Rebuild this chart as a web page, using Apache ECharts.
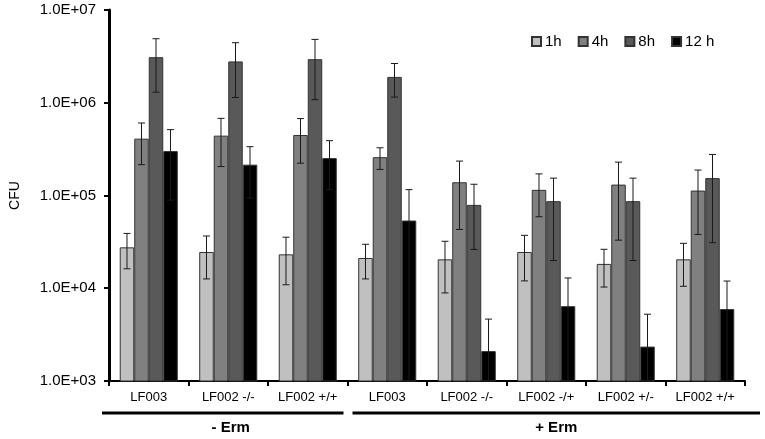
<!DOCTYPE html>
<html>
<head>
<meta charset="utf-8">
<script src="https://cdn.jsdelivr.net/npm/echarts@6/dist/echarts.min.js"></script>
<style>
html,body{margin:0;padding:0;background:#fff;}
#c{width:765px;height:439px;}
</style>
</head>
<body>
<div id="c"></div>
<script>
const categories = ['LF003', 'LF002 -/-', 'LF002 +/+', 'LF003', 'LF002 -/-', 'LF002 -/+', 'LF002 +/-', 'LF002 +/+'];
const seriesNames = ['1h', '4h', '8h', '12 h'];
const v1h  = [27600, 24600, 23200, 21200, 20500, 24600, 18300, 20500];
const v4h  = [410000, 442000, 449000, 259000, 139000, 115000, 131000, 113000];
const v8h  = [3100000, 2790000, 2950000, 1900000, 79200, 86900, 86900, 154000];
const v12h = [301000, 215000, 253000, 53700, 2100, 6410, 2350, 5960];
const e1h  = [11400, 12000, 12300, 8600, 11600, 12600, 8000, 10000];
const e4h  = [195000, 237000, 226000, 68000, 96000, 56000, 98000, 75000];
const e8h  = [1800000, 1650000, 1870000, 750000, 53000, 67000, 67000, 123000];
const e12h = [212000, 121000, 137000, 62000, 2550, 6500, 2900, 6000];
const yTicks = ['1.0E+03', '1.0E+04', '1.0E+05', '1.0E+06', '1.0E+07'];
const groupLabels = ['- Erm', '+ Erm'];
const groupSpans = [[0, 2], [3, 7]];

const values = [v1h, v4h, v8h, v12h];
const errors = [e1h, e4h, e8h, e12h];
const colors = ['#c0c0c0', '#808080', '#595959', '#000000'];
const CAT_GAP = 0.27;
const FONT = '"Liberation Sans", Arial, sans-serif';

const chart = echarts.init(document.getElementById('c'));

const barSeries = seriesNames.map((n, i) => ({
  name: n,
  type: 'bar',
  data: values[i],
  barGap: '0%',
  barCategoryGap: (CAT_GAP * 100) + '%',
  itemStyle: { color: colors[i], borderColor: '#333', borderWidth: 1 },
  emphasis: { disabled: true },
  z: 2
}));

const errSeries = seriesNames.map((n, i) => ({
  type: 'custom',
  name: n + '_err',
  data: values[i].map((v, k) => [k, v, errors[i][k]]),
  z: 5,
  silent: true,
  renderItem: function (params, api) {
    const k = api.value(0), v = api.value(1), e = api.value(2);
    const band = api.size([1, 0])[0];
    const groupW = band * (1 - CAT_GAP);
    const bw = groupW / 4;
    const base = api.coord([k, v]);
    const x = base[0] - groupW / 2 + bw * (i + 0.5);
    const lowV = Math.max(v - e, 1000);
    const yHi = api.coord([k, v + e])[1];
    const yLo = api.coord([k, lowV])[1];
    const cap = 3.5;
    const st = { stroke: '#1a1a1a', lineWidth: 1 };
    const children = [
      { type: 'line', shape: { x1: x, y1: yHi, x2: x, y2: yLo }, style: st },
      { type: 'line', shape: { x1: x - cap, y1: yHi, x2: x + cap, y2: yHi }, style: st }
    ];
    if (v - e > 1000) {
      children.push({ type: 'line', shape: { x1: x - cap, y1: yLo, x2: x + cap, y2: yLo }, style: st });
    }
    return { type: 'group', children: children };
  }
}));

chart.setOption({
  animation: false,
  backgroundColor: '#fff',
  textStyle: { fontFamily: FONT },
  grid: { left: 108, right: 20, top: 10, bottom: 58 },
  legend: {
    data: seriesNames,
    left: 526, top: 29,
    itemWidth: 9, itemHeight: 9, itemGap: 16,
    icon: 'rect',
    textStyle: { fontSize: 15, color: '#000', fontFamily: FONT, padding: [0, 0, 0, -1] }
  },
  xAxis: {
    type: 'category',
    data: categories,
    axisLine: { lineStyle: { color: '#000', width: 2 } },
    axisTick: { show: true, alignWithLabel: false, length: 5, lineStyle: { color: '#000', width: 2 } },
    axisLabel: { color: '#000', fontSize: 13, margin: 10, interval: 0, fontFamily: FONT }
  },
  yAxis: {
    type: 'log',
    logBase: 10,
    min: 1000,
    max: 10000000,
    name: 'CFU',
    nameLocation: 'middle',
    nameGap: 87,
    nameRotate: 90,
    nameTextStyle: { color: '#000', fontSize: 14, fontFamily: FONT },
    axisLine: { show: true, lineStyle: { color: '#000', width: 3 } },
    axisTick: { show: true, length: 5, lineStyle: { color: '#000', width: 2 } },
    splitLine: { show: false },
    axisLabel: {
      color: '#000', fontSize: 15, margin: 13, fontFamily: FONT,
      formatter: function (val) {
        const idx = Math.round(Math.log10(val)) - 3;
        return yTicks[idx] !== undefined ? yTicks[idx] : '';
      }
    }
  },
  series: barSeries.concat(errSeries)
});

// group annotation lines/labels under the axis, positioned from the axis scale
const half = 0.5;
const lineY = 413;
const graphics = [];
groupSpans.forEach((span, g) => {
  const xa = chart.convertToPixel({ xAxisIndex: 0 }, span[0]);
  const xb = chart.convertToPixel({ xAxisIndex: 0 }, span[1]);
  const band = chart.convertToPixel({ xAxisIndex: 0 }, 1) - chart.convertToPixel({ xAxisIndex: 0 }, 0);
  let x1 = xa - band * half - (g === 0 ? 7 : -5);
  let x2 = xb + band * half + (g === 0 ? -4 : 15);
  graphics.push({
    type: 'line', shape: { x1: x1, y1: lineY, x2: x2, y2: lineY },
    style: { stroke: '#000', lineWidth: 3 }, silent: true
  });
  graphics.push({
    type: 'text',
    style: {
      text: groupLabels[g], x: (x1 + x2) / 2 + (g === 0 ? 8 : 0), y: 428,
      textAlign: 'center', textVerticalAlign: 'middle',
      font: 'bold 15px ' + FONT, fill: '#000'
    }, silent: true
  });
});
chart.setOption({ graphic: graphics });
</script>
</body>
</html>
